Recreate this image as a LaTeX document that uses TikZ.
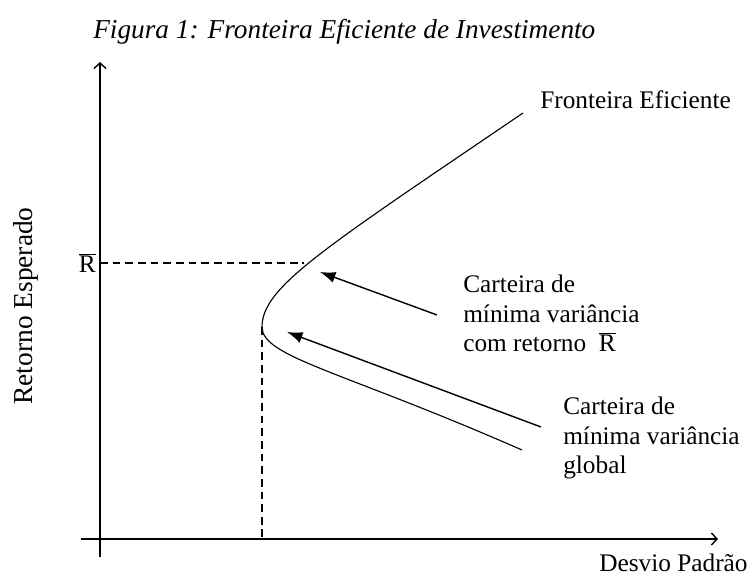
\documentclass[tikz,border=0pt]{standalone}
\usepackage{fontspec}
\setmainfont{Liberation Serif}
\usetikzlibrary{arrows.meta}
\newcommand{\rbarsym}{$\overline{\mbox{R}}$}
\tikzset{
  axis/.style={line width=1pt,-{Straight Barb[length=4pt,width=8.5pt]}},
  guide/.style={line width=0.75pt,dash pattern=on 5.5pt off 3.5pt},
  frontier/.style={line width=0.8pt},
  pointer/.style={line width=1pt,-{Latex[length=11pt,width=8pt]}},
  lbl/.style={font=\fontsize{18}{21}\selectfont,inner sep=0pt,align=left}
}
\begin{document}
\begin{tikzpicture}[x=0.025cm,y=0.025cm]
            \useasboundingbox (0,0) rectangle (756,576);
            \node[anchor=base west,inner sep=0pt,font=\fontsize{19.4}{23}\selectfont\itshape] (title) at (93,537) {Figura 1: Fronteira Eficiente de Investimento};

            \coordinate (ybot) at (100,19);
            \coordinate (ytop) at (100,514);
            \coordinate (xbeg) at (81,37);
            \coordinate (xend) at (718,37);
            \draw[axis] (ybot) -- (ytop);
            \draw[axis] (xbeg) -- (xend);

            \coordinate (rlevel) at (100,313);
            \coordinate (rcurve) at (304,313);
            \coordinate (vertex) at (262,249);
            \coordinate (vfoot) at (262,37);
            \coordinate (upper) at (523,463);
            \coordinate (lower) at (522,126);

            \draw[frontier] (upper) .. controls (323,327) and (262,289) .. (vertex)
                                    .. controls (262,219) and (342,205) .. (lower);
            \draw[guide] (rlevel) -- (rcurve);
            \draw[guide] (vertex) -- (vfoot);

            \node[lbl,anchor=base east] (rbar) at (96,303) {\rbarsym};
            \node[lbl,anchor=base,rotate=90,font=\fontsize{19.5}{23}\selectfont] (ylabel) at (32,270) {Retorno Esperado};
            \node[lbl,anchor=base west] (xlabel) at (599,4) {Desvio Padrão};
            \node[lbl,anchor=base west] (flabel) at (540,467) {Fronteira Eficiente};

            \node[lbl,anchor=north west] (cartr) at (463,301) {Carteira de\\mínima variância\\com retorno\ \ \rbarsym};
            \node[lbl,anchor=north west] (cartg) at (563,179) {Carteira de\\mínima variância\\global};

            \coordinate (tailr) at (437,261);
            \coordinate (tipr) at (320,304);
            \coordinate (tailg) at (541,149);
            \coordinate (tipg) at (287,244);
            \draw[pointer] (tailr) -- (tipr);
            \draw[pointer] (tailg) -- (tipg);

        \end{tikzpicture}
\end{document}
